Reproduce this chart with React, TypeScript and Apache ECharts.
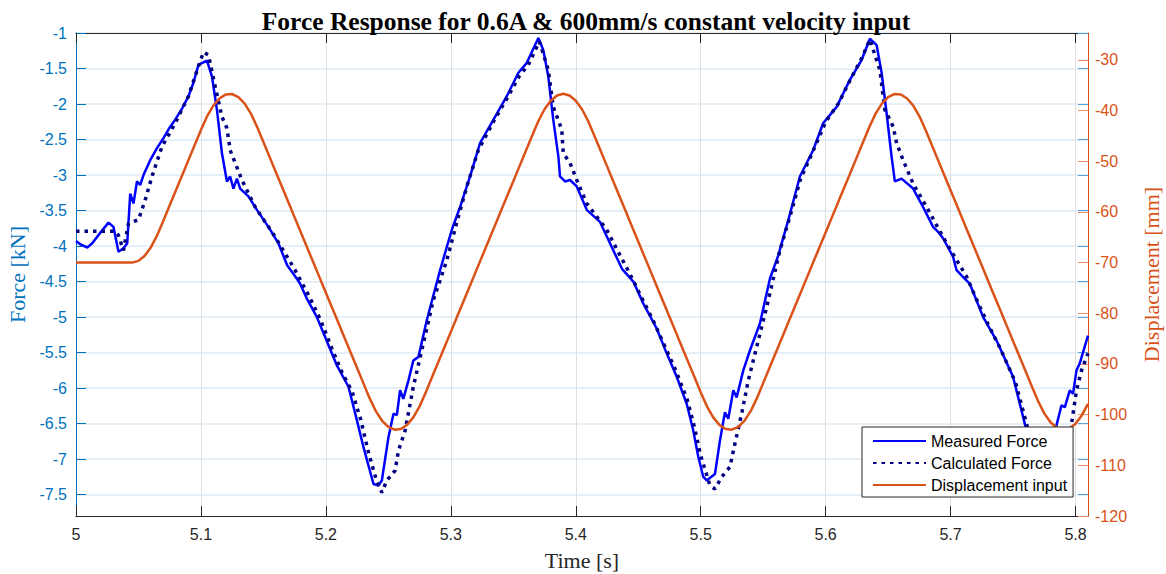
import React, { useEffect, useRef } from "react";
import * as echarts from "echarts";

const TITLE = "Force Response for 0.6A & 600mm/s constant velocity input";
const SERIES_NAMES = ["Measured Force", "Calculated Force", "Displacement input"];

const TIME_TICKS = [5, 5.1, 5.2, 5.3, 5.4, 5.5, 5.6, 5.7, 5.8];
const FORCE_TICKS = [-7.5, -7, -6.5, -6, -5.5, -5, -4.5, -4, -3.5, -3, -2.5, -2, -1.5, -1];
const DISP_TICKS = [-120, -110, -100, -90, -80, -70, -60, -50, -40, -30];

// Measured force [kN] (time [s], value)
const measuredT = [
  5.0, 5.004, 5.009, 5.013, 5.02, 5.026, 5.03, 5.034, 5.038, 5.041, 5.0434, 5.046, 5.0488, 5.0514, 5.054,
  5.0594, 5.0648, 5.07, 5.075, 5.0794, 5.085, 5.09, 5.094, 5.098, 5.1048, 5.1088, 5.1128, 5.1168, 5.1208,
  5.1234, 5.126, 5.1288, 5.1314, 5.138, 5.1448, 5.154, 5.162, 5.169, 5.1768, 5.1794, 5.1848, 5.1928, 5.1994,
  5.2088, 5.2181, 5.2248, 5.2301, 5.2381, 5.2421, 5.2448, 5.2501, 5.2541, 5.2568, 5.2594, 5.262, 5.2661,
  5.27, 5.2741, 5.2808, 5.2914, 5.3008, 5.3074, 5.3154, 5.3234, 5.3354, 5.3448, 5.3541, 5.3608, 5.3701,
  5.374, 5.378, 5.382, 5.3861, 5.3874, 5.3914, 5.3954, 5.4008, 5.4088, 5.4194, 5.4274, 5.437, 5.4461,
  5.4541, 5.4648, 5.4728, 5.4808, 5.4888, 5.4941, 5.4981, 5.5021, 5.5048, 5.5114, 5.5154, 5.5194, 5.5221,
  5.5261, 5.5288, 5.5341, 5.5394, 5.5474, 5.5554, 5.5621, 5.5705, 5.5794, 5.59, 5.598, 5.6088, 5.6194,
  5.6288, 5.6354, 5.6408, 5.6448, 5.6488, 5.6528, 5.6554, 5.6608, 5.67, 5.678, 5.686, 5.69, 5.694, 5.702,
  5.7048, 5.7114, 5.7154, 5.7261, 5.7368, 5.75, 5.7594, 5.766, 5.774, 5.778, 5.7848, 5.7888, 5.7914,
  5.7954, 5.798, 5.8008, 5.8034, 5.81,
];
const measuredF = [
  -3.93, -3.98, -4.02, -3.96, -3.8, -3.67, -3.73, -4.08, -4.03, -3.96, -3.26, -3.4, -3.09, -3.14, -3.0,
  -2.79, -2.62, -2.48, -2.33, -2.22, -2.06, -1.89, -1.7, -1.45, -1.39, -1.61, -2.08, -2.69, -3.09,
  -3.02, -3.19, -3.05, -3.19, -3.3, -3.49, -3.73, -3.96, -4.27, -4.46, -4.53, -4.74, -5.0, -5.28,
  -5.68, -5.98, -6.45, -6.83, -7.35, -7.37, -7.3, -6.69, -6.36, -6.38, -6.03, -6.15, -5.89,
  -5.61, -5.56, -5.04, -4.34, -3.77, -3.45, -3.02, -2.55, -2.18, -1.89, -1.56, -1.42, -1.07,
  -1.24, -1.61, -2.22, -2.74, -3.02, -3.09, -3.07, -3.16, -3.49, -3.66, -3.96, -4.32, -4.5,
  -4.81, -5.16, -5.51, -5.84, -6.22, -6.6, -6.97, -7.25, -7.3, -7.21, -6.74, -6.34, -6.43,
  -6.03, -6.13, -5.75, -5.47, -5.09, -4.46, -4.13, -3.61, -3.02, -2.65, -2.27, -2.04, -1.66,
  -1.38, -1.08, -1.17, -1.56, -2.13, -2.74, -3.09, -3.05, -3.19, -3.45, -3.73, -3.8, -3.89, -4.15,
  -4.34, -4.46, -4.53, -5.0, -5.33, -5.84, -6.5, -7.0, -7.35, -7.25, -6.52, -6.24, -6.27,
  -6.03, -6.08, -5.75, -5.65, -5.26,
];

// Calculated force [kN] (time [s], value)
const calculatedT = [
  5.0, 5.0314, 5.034, 5.038, 5.042, 5.05, 5.0554, 5.0608, 5.0688, 5.0794, 5.09, 5.098, 5.102, 5.106, 5.1114,
  5.1168, 5.1208, 5.1234, 5.1274, 5.1328, 5.1434, 5.1594, 5.1754, 5.187, 5.196, 5.205, 5.213, 5.221, 5.228,
  5.234, 5.2405, 5.2448, 5.2488, 5.2554, 5.2581, 5.2634, 5.27, 5.278, 5.286, 5.2968, 5.305, 5.313, 5.322,
  5.335, 5.345, 5.355, 5.362, 5.3709, 5.378, 5.382, 5.3888, 5.39, 5.3954, 5.4008, 5.4088, 5.4248, 5.433,
  5.443, 5.452, 5.462, 5.471, 5.48, 5.489, 5.495, 5.5, 5.5074, 5.5114, 5.5168, 5.5234, 5.5274, 5.5328,
  5.5381, 5.5448, 5.5528, 5.5634, 5.572, 5.58, 5.591, 5.6, 5.61, 5.62, 5.629, 5.6354, 5.6434, 5.6474,
  5.6541, 5.6568, 5.662, 5.67, 5.6808, 5.6968, 5.7128, 5.722, 5.73, 5.74, 5.752, 5.76, 5.768, 5.778,
  5.784, 5.79, 5.796, 5.8008, 5.8048, 5.81,
];
const calculatedF = [
  -3.79, -3.79, -3.85, -4.06, -3.68, -3.63, -3.35, -3.02, -2.6, -2.27, -1.89, -1.47, -1.27, -1.31, -1.75,
  -2.18, -2.34, -2.65, -2.83, -3.07, -3.45, -3.87, -4.34, -4.72, -5.05, -5.45, -5.78, -6.05, -6.45,
  -6.9, -7.3, -7.47, -7.3, -7.16, -6.88, -6.6, -5.98, -5.37, -4.76, -4.2, -3.65, -3.15, -2.65,
  -2.22, -1.92, -1.6, -1.45, -1.12, -1.52, -2.04, -2.36, -2.69, -2.83, -3.07, -3.4, -3.77, -4.05,
  -4.38, -4.7, -5.05, -5.4, -5.75, -6.15, -6.55, -6.95, -7.37, -7.42, -7.25, -7.11, -6.78, -6.36,
  -5.89, -5.42, -4.86, -4.06, -3.55, -3.05, -2.62, -2.25, -2.0, -1.65, -1.35, -1.09, -1.52, -2.08,
  -2.32, -2.55, -2.79, -3.12, -3.45, -3.96, -4.43, -4.8, -5.1, -5.45, -5.92, -6.45, -7.0, -7.45,
  -7.3, -7.1, -6.6, -6.03, -5.75, -5.51,
];

// Displacement input [mm], sampled every 5 ms from t = 5.000 s
const DISP_START = 5.0;
const DISP_STEP = 0.005;
const displacement = [
  -70, -70, -70, -70, -70, -70, -70, -70, -70, -70,
  -69.66, -68.65, -66.96, -64.59, -61.68, -58.7, -55.73, -52.76, -49.78, -46.81,
  -43.84, -41.08, -38.98, -37.57, -36.82, -36.75, -37.36, -38.65, -40.61, -43.24,
  -46.21, -49.19, -52.16, -55.13, -58.11, -61.08, -64.05, -67.03, -70.0, -72.97,
  -75.95, -78.92, -81.89, -84.87, -87.84, -90.81, -93.78, -96.75, -99.32, -101.21,
  -102.43, -102.97, -102.83, -102.02, -100.54, -98.37, -95.57, -92.59, -89.62, -86.65,
  -83.67, -80.7, -77.73, -74.75, -71.78, -68.81, -65.84, -62.86, -59.89, -56.92,
  -53.94, -50.97, -48.0, -45.02, -42.11, -39.74, -38.05, -37.04, -36.7, -37.04,
  -38.05, -39.74, -42.11, -45.03, -48.0, -50.97, -53.94, -56.92, -59.89, -62.86,
  -65.84, -68.81, -71.78, -74.75, -77.73, -80.7, -83.67, -86.65, -89.62, -92.59,
  -95.57, -98.37, -100.54, -102.02, -102.83, -102.97, -102.43, -101.21, -99.32, -96.75,
  -93.78, -90.81, -87.84, -84.87, -81.89, -78.92, -75.95, -72.97, -70.0, -67.03,
  -64.05, -61.08, -58.11, -55.13, -52.16, -49.19, -46.21, -43.24, -40.61, -38.65,
  -37.36, -36.75, -36.82, -37.57, -38.98, -41.08, -43.84, -46.81, -49.78, -52.76,
  -55.73, -58.7, -61.68, -64.65, -67.62, -70.59, -73.57, -76.54, -79.51, -82.49,
  -85.46, -88.43, -91.41, -94.38, -97.32, -99.75, -101.51, -102.59, -103.0, -102.73,
  -101.78, -100.16, -97.86,
];

const AX_BLUE = "#0072BD";
const AX_ORANGE = "#D95319";
const AX_DARK = "#262626";
const SANS = "'Liberation Sans', Arial, sans-serif";
const SERIF = "'Liberation Serif', 'Times New Roman', serif";

export default function App() {
  const ref = useRef<HTMLDivElement>(null);

  useEffect(() => {
    if (!ref.current) return;
    const chart = echarts.init(ref.current, undefined, { renderer: "svg" });

    const measuredData = measuredT.map((t, i) => [t, measuredF[i]]);
    const calculatedData = calculatedT.map((t, i) => [t, calculatedF[i]]);
    const dispData = displacement.map((v, i) => [+(DISP_START + i * DISP_STEP).toFixed(3), v]);

    const fmt1 = (v: number) => String(Math.round(v * 10) / 10);

    chart.setOption({
      animation: false,
      backgroundColor: "#ffffff",
      title: {
        text: TITLE,
        left: 581,
        textAlign: "center",
        top: 3,
        textStyle: { fontFamily: SERIF, fontSize: 25.5, fontWeight: "bold", color: "#000000" },
      },
      grid: { left: 76, right: 78, top: 33, bottom: 58, containLabel: false, outerBoundsMode: "none" },
      legend: {
        orient: "vertical",
        left: 862,
        top: 427,
        z: 20,
        backgroundColor: "#ffffff",
        borderColor: AX_DARK,
        borderWidth: 1,
        padding: [6, 6, 4, 10],
        itemWidth: 53,
        itemHeight: 16,
        itemGap: 6,
        itemStyle: { opacity: 0 },
        textStyle: { fontFamily: SANS, fontSize: 16, color: "#000000" },
        data: SERIES_NAMES,
      },
      xAxis: [
        {
          type: "value",
          position: "bottom",
          min: 5,
          max: 5.81,
          name: "Time [s]",
          nameLocation: "middle",
          nameGap: 33,
          nameTextStyle: { fontFamily: SERIF, fontSize: 22, color: AX_DARK },
          axisLine: { show: true, lineStyle: { color: AX_DARK, width: 1 } },
          axisTick: { show: true, inside: true, length: 10, customValues: TIME_TICKS, lineStyle: { color: AX_DARK } },
          axisLabel: {
            customValues: TIME_TICKS,
            formatter: fmt1,
            fontFamily: SANS,
            fontSize: 16,
            color: AX_DARK,
            margin: 10,
          },
          splitLine: { show: true, lineStyle: { color: "#DFDFDF", width: 1 } },
        },
        {
          type: "value",
          position: "top",
          min: 5,
          max: 5.81,
          axisLine: { show: true, lineStyle: { color: AX_DARK, width: 1 } },
          axisTick: { show: true, inside: true, length: 10, customValues: TIME_TICKS, lineStyle: { color: AX_DARK } },
          axisLabel: { show: false },
          splitLine: { show: false },
        },
      ],
      yAxis: [
        {
          type: "value",
          position: "left",
          min: -7.8,
          max: -1,
          name: "Force [kN]",
          nameLocation: "middle",
          nameRotate: 90,
          nameGap: 38,
          nameTextStyle: { fontFamily: SERIF, fontSize: 22, color: AX_BLUE },
          axisLine: { show: true, lineStyle: { color: AX_BLUE, width: 1 } },
          axisTick: { show: true, inside: true, length: 10, customValues: FORCE_TICKS, lineStyle: { color: AX_BLUE } },
          axisLabel: {
            customValues: FORCE_TICKS,
            formatter: fmt1,
            fontFamily: SANS,
            fontSize: 16,
            color: AX_BLUE,
            margin: 9,
          },
          splitLine: { show: true, lineStyle: { color: "#DCEAF5", width: 1.5 } },
        },
        {
          type: "value",
          position: "right",
          min: -120,
          max: -24.7,
          name: "Displacement [mm]",
          nameLocation: "middle",
          nameRotate: 90,
          nameGap: 52,
          nameTextStyle: { fontFamily: SERIF, fontSize: 22, color: AX_ORANGE },
          axisLine: { show: true, lineStyle: { color: AX_ORANGE, width: 1 } },
          axisTick: { show: true, inside: true, length: 10, customValues: DISP_TICKS, lineStyle: { color: "#E8916B" } },
          axisLabel: {
            customValues: DISP_TICKS,
            formatter: (v: number) => String(Math.round(v)),
            fontFamily: SANS,
            fontSize: 16,
            color: AX_ORANGE,
            margin: 7,
          },
          splitLine: { show: false },
        },
        {
          type: "value",
          position: "right",
          min: -7.8,
          max: -1,
          axisLine: { show: false },
          axisTick: { show: true, inside: true, length: 10, customValues: FORCE_TICKS, lineStyle: { color: "#5AA0D6" } },
          axisLabel: { show: false },
          splitLine: { show: false },
        },
      ],
      series: [
        {
          name: SERIES_NAMES[0],
          type: "line",
          xAxisIndex: 0,
          yAxisIndex: 0,
          data: measuredData,
          showSymbol: false,
          symbol: "none",
          lineStyle: { color: "#0000FF", width: 2.5 },
          itemStyle: { color: "#0000FF" },
          z: 3,
        },
        {
          name: SERIES_NAMES[1],
          type: "line",
          xAxisIndex: 0,
          yAxisIndex: 0,
          data: calculatedData,
          showSymbol: false,
          symbol: "none",
          lineStyle: { color: "#000080", width: 3.5, type: [3.5, 5], cap: "butt" },
          itemStyle: { color: "#000080" },
          z: 4,
        },
        {
          name: SERIES_NAMES[2],
          type: "line",
          xAxisIndex: 0,
          yAxisIndex: 1,
          data: dispData,
          showSymbol: false,
          symbol: "none",
          lineStyle: { color: AX_ORANGE, width: 2.5 },
          itemStyle: { color: AX_ORANGE },
          z: 5,
        },
      ],
    });

    return () => chart.dispose();
  }, []);

  return (
    <div
      ref={ref}
      style={{ position: "absolute", left: 0, top: 0, width: 1166, height: 574, background: "#fff" }}
    />
  );
}
